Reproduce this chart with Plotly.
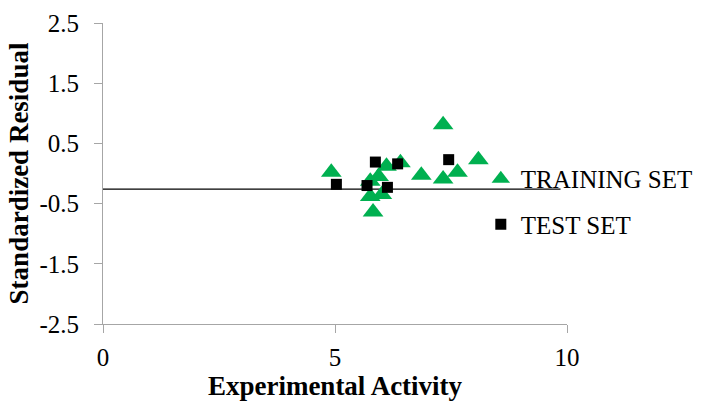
import plotly.graph_objects as go

# Training set (Experimental Activity, Standardized Residual)
train_x = [4.92, 5.76, 5.94, 6.11, 6.41, 5.76, 6.01, 5.82, 6.86, 7.33, 7.33, 7.64, 8.09]
train_y = [0.02, -0.13, -0.05, 0.12, 0.18, -0.38, -0.35, -0.64, -0.03, 0.81, -0.09, 0.02, 0.23]

# Test set
test_x = [5.03, 5.87, 6.35, 5.69, 6.13, 7.45]
test_y = [-0.18, 0.19, 0.16, -0.20, -0.23, 0.23]

# Reference line
line_x = [0, 9.86]
line_y = [-0.26, -0.26]

x_ticks = [0, 5, 10]
y_ticks = [-2.5, -1.5, -0.5, 0.5, 1.5, 2.5]

FONT = "Liberation Serif"
AXIS_COLOR = "#a6a6a6"

fig = go.Figure()
fig.add_trace(go.Scatter(x=line_x, y=line_y, mode="lines",
                         line=dict(color="black", width=1.25),
                         showlegend=False, hoverinfo="skip"))
fig.add_trace(go.Scatter(x=train_x, y=train_y, mode="markers", name="TRAINING SET",
                         legendgroup="a",
                         marker=dict(symbol="triangle-up", size=18, color="#00b050")))
fig.add_trace(go.Scatter(x=test_x, y=test_y, mode="markers", name="TEST SET",
                         legendgroup="b",
                         marker=dict(symbol="square", size=11, color="black")))

fig.update_layout(
    width=705, height=401,
    margin=dict(l=103, r=138, t=23, b=77, autoexpand=False),
    paper_bgcolor="white", plot_bgcolor="white",
    font=dict(family=FONT, color="black", size=25),
    showlegend=True,
    legend=dict(xref="container", yref="container", x=0.682, y=0.611,
                xanchor="left", yanchor="top",
                bgcolor="rgba(0,0,0,0)", font=dict(family=FONT, size=25),
                tracegroupgap=10, traceorder="grouped"),
    xaxis=dict(range=[0, 10], tickvals=x_ticks, ticktext=[str(v) for v in x_ticks],
               showgrid=False, zeroline=False, showline=True, linecolor=AXIS_COLOR,
               linewidth=1, ticks="outside", ticklen=8, tickcolor=AXIS_COLOR,
               ticklabelstandoff=3, automargin=False,
               tickfont=dict(family=FONT, size=25),
               title=dict(text="<b>Experimental Activity</b>", standoff=34,
                          font=dict(family=FONT, size=27))),
    yaxis=dict(range=[-2.5, 2.5], tickvals=y_ticks, ticktext=[f"{v:.1f}" for v in y_ticks],
               showgrid=False, zeroline=False, showline=True, linecolor=AXIS_COLOR,
               linewidth=1, ticks="outside", ticklen=8, tickcolor=AXIS_COLOR,
               ticklabelstandoff=10, automargin=False,
               tickfont=dict(family=FONT, size=25),
               title=dict(text="<b>Standardized Residual</b>", standoff=2,
                          font=dict(family=FONT, size=27))),
)

fig.write_html("out.html", config={"displayModeBar": False},
               post_script="document.body.style.margin='0';")
